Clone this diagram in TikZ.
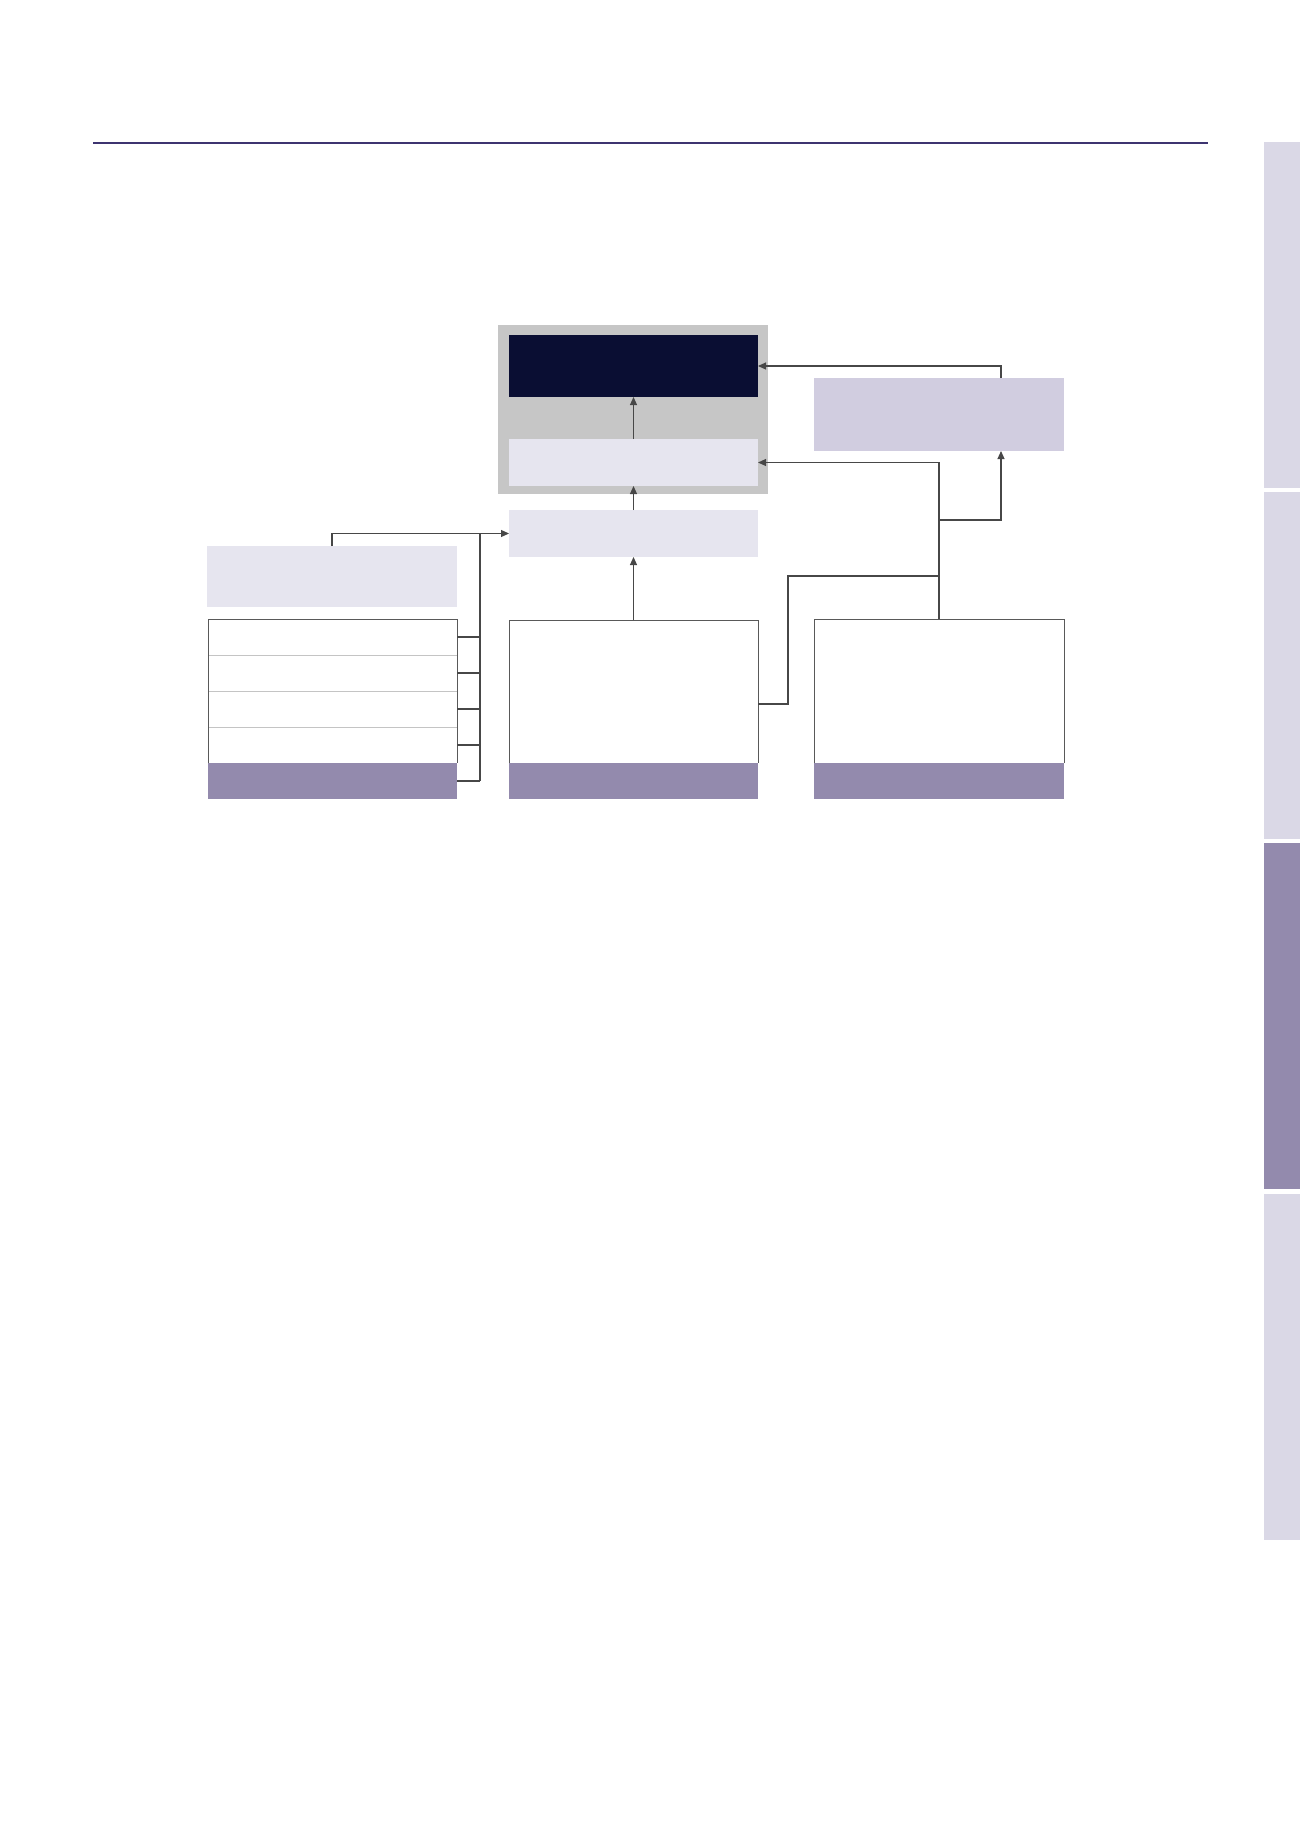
\documentclass[tikz,border=0pt]{standalone}
\usetikzlibrary{arrows.meta,calc}
\definecolor{rulec}{HTML}{3D3470}
\definecolor{tablight}{HTML}{DAD8E6}
\definecolor{tabdark}{HTML}{938AAD}
\definecolor{barc}{HTML}{938AAD}
\definecolor{lightbox}{HTML}{E6E5EF}
\definecolor{lilacbox}{HTML}{D1CDE0}
\definecolor{greyframe}{HTML}{C6C6C6}
\definecolor{darkbox}{HTML}{0A0E33}
\definecolor{linec}{HTML}{474747}
\definecolor{sepc}{HTML}{C4C4C4}
\tikzset{
  blk/.style={rectangle, inner sep=0pt, outer sep=0pt, anchor=north west},
  conn/.style={draw=linec, line width=1.1pt},
  arr/.style={conn, -{Triangle[length=8pt,width=7pt]}},
  border/.style={draw=linec!90, line width=1pt},
}
\newcommand{\blk}[6]{% name, x1,y1,x2,y2, style
  \node[blk,#6, minimum width={(#4-#2)*1pt}, minimum height={(#5-#3)*1pt}] (#1) at (#2,#3) {};}
\begin{document}
\begin{tikzpicture}[x=1pt,y=-1pt]
\useasboundingbox (0,0) rectangle (1300,1839);
\fill[white] (0,0) rectangle (1300,1839);
% top rule
\draw[rulec, line width=2.2pt] (93,143) -- (1208,143);
% side tabs
\blk{tabA}{1264}{142}{1300}{488}{fill=tablight}
\blk{tabB}{1264}{492}{1300}{839}{fill=tablight}
\blk{tabC}{1264}{843}{1300}{1189}{fill=tabdark}
\blk{tabD}{1264}{1194}{1300}{1540}{fill=tablight}
% central stack
\blk{frame}{498}{325}{768}{494}{fill=greyframe}
\blk{dark}{509}{335}{758}{397}{fill=darkbox}
\blk{inner}{509}{439}{758}{486}{fill=lightbox}
\blk{mid}{509}{510}{758}{557}{fill=lightbox}
% right lilac box
\blk{lilac}{814}{378}{1064}{451}{fill=lilacbox}
% left light box
\blk{lbox}{207}{546}{457}{607}{fill=lightbox}
% left table
\blk{r1}{208}{619}{457}{655}{fill=white}
\blk{r2}{208}{655}{457}{691}{fill=white}
\blk{r3}{208}{691}{457}{727}{fill=white}
\blk{r4}{208}{727}{457}{763}{fill=white}
\blk{r5}{208}{763}{457}{799}{fill=barc}
\draw[sepc, line width=1pt] (r1.south west) -- (r1.south east);
\draw[sepc, line width=1pt] (r2.south west) -- (r2.south east);
\draw[sepc, line width=1pt] (r3.south west) -- (r3.south east);
\draw[border] (r4.south west) -- (r1.north west) -- (r1.north east) -- (r4.south east);
% middle table
\blk{mtop}{509}{620}{758}{763}{fill=white}
\blk{mbar}{509}{763}{758}{799}{fill=barc}
\draw[border] (mtop.south west) -- (mtop.north west) -- (mtop.north east) -- (mtop.south east);
% right table
\blk{rtop}{814}{619}{1064}{763}{fill=white}
\blk{rbar}{814}{763}{1064}{799}{fill=barc}
\draw[border] (rtop.south west) -- (rtop.north west) -- (rtop.north east) -- (rtop.south east);
% coordinates
\coordinate (lilacTop) at (1001,378);
\coordinate (lilacBot) at (1001,451);
\coordinate (jA) at (rtop.north |- 0,520);
\coordinate (jB) at (rtop.north |- 0,576);
\coordinate (mtR) at (758,704);
\coordinate (busT) at (480,534);
\coordinate (busB) at (480,781);
% connectors
\draw[arr] (inner.north) -- (dark.south);
\draw[arr] (mid.north) -- (inner.south);
\draw[arr] (mtop.north) -- (mid.south);
\draw[arr] (lilacTop) |- (dark.east);
\draw[arr] (rtop.north) |- (inner.east);
\draw[arr] (jA) -| (lilacBot);
\draw[conn] (mtR) -- ++(30,0) |- (jB);
\draw[arr] (lbox.north) |- (mid.west);
\draw[conn] (busT) -- (busB);
\foreach \r in {r1,r2,r3,r4,r5}{\draw[conn] (\r.east) -- (\r.east -| busT);}
\end{tikzpicture}
\end{document}
